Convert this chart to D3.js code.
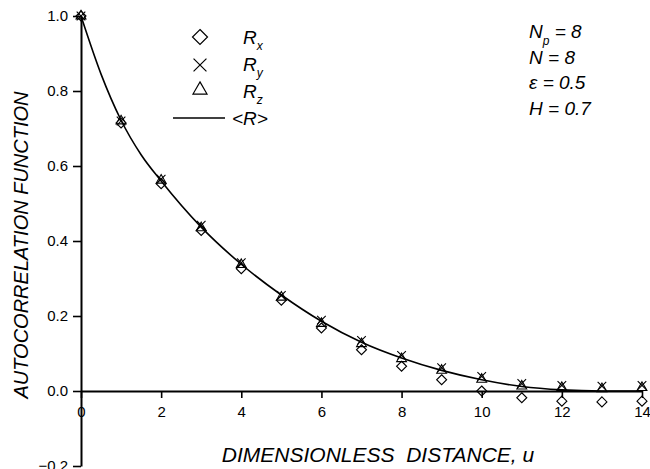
<!DOCTYPE html>
<html>
<head>
<meta charset="utf-8">
<script src="https://cdn.jsdelivr.net/npm/d3@7"></script>
<style>
body { margin: 0; background: #fff; }
text { font-family: "Liberation Sans", Arial, sans-serif; fill: #000; }
</style>
</head>
<body>
<script>
// data
var uPoints = [0, 1, 2, 3, 4, 5, 6, 7, 8, 9, 10, 11, 12, 13, 14];
var rx = [1.0, 0.715, 0.553, 0.428, 0.326, 0.242, 0.168, 0.110, 0.066, 0.030, 0.000, -0.018, -0.027, -0.029, -0.027];
var ry = [1.0, 0.720, 0.565, 0.442, 0.342, 0.255, 0.189, 0.135, 0.095, 0.062, 0.039, 0.020, 0.015, 0.013, 0.015];
var rz = [1.0, 0.720, 0.562, 0.435, 0.337, 0.250, 0.180, 0.126, 0.086, 0.055, 0.031, 0.013, 0.009, 0.006, 0.009];
var uCurve = [0, 0.5, 1, 1.5, 2, 3, 4, 5, 6, 7, 8, 9, 10, 11, 12, 13, 14];
var rMean = [1.0, 0.845, 0.722, 0.63, 0.56, 0.437, 0.338, 0.256, 0.186, 0.130, 0.088, 0.055, 0.030, 0.012, 0.003, 0.0, 0.0];
var xMajor = [0, 2, 4, 6, 8, 10, 12, 14];
var xMinor = [1, 3, 5, 7, 9, 11, 13];
var yMajor = [-0.2, 0.0, 0.2, 0.4, 0.6, 0.8, 1.0];
var yMinor = [-0.1, 0.1, 0.3, 0.5, 0.7, 0.9];
var params = [
    {main: 'N', sub: 'p', rest: ' = 8'},
    {main: 'N', sub: '', rest: ' = 8'},
    {main: '\u03b5', sub: '', rest: ' = 0.5'},
    {main: 'H', sub: '', rest: ' = 0.7'}
];

var _width = 650, _height = 469;

var svg = d3.select('body').append('svg')
    .attr('width', _width)
    .attr('height', _height);

var x = d3.scaleLinear().domain([0, 14]).range([81, 642]);
var y = d3.scaleLinear().domain([-0.2, 1.0]).range([466, 16]);

// y axis
var gy = svg.append('g').attr('transform', 'translate(' + x(0) + ',0)');
gy.call(d3.axisLeft(y).tickValues(yMinor).tickSize(4).tickSizeOuter(0).tickFormat(''));
gy.call(d3.axisLeft(y).tickValues(yMajor).tickSize(8).tickPadding(5).tickSizeOuter(0)
    .tickFormat(d3.format('.1f')));

// x axis sitting on y = 0
var gx = svg.append('g').attr('transform', 'translate(0,' + y(0) + ')');
gx.call(d3.axisBottom(x).tickValues(xMinor).tickSize(4).tickSizeOuter(0).tickFormat(''));
gx.call(d3.axisBottom(x).tickValues(xMajor).tickSize(7).tickPadding(8).tickSizeOuter(0)
    .tickFormat(d3.format('d')));

svg.selectAll('.domain').attr('stroke', '#000').attr('stroke-width', 2);
svg.selectAll('.tick line').attr('stroke', '#000').attr('stroke-width', 1.6);
svg.selectAll('.tick text').attr('font-size', 15).attr('font-family', '"Liberation Sans", Arial, sans-serif').attr('fill', '#000');

// mean curve
var line = d3.line()
    .x(function(d, i){ return x(uCurve[i]); })
    .y(function(d){ return y(d); })
    .curve(d3.curveMonotoneX);

svg.append('path')
    .datum(rMean)
    .attr('d', line)
    .attr('fill', 'none')
    .attr('stroke', '#000')
    .attr('stroke-width', 1.6);

var diamond = function(s){
    var h = s / 2;
    return 'M0,' + (-h) + 'L' + h + ',0L0,' + h + 'L' + (-h) + ',0Z';
};
var cross = d3.symbol().type(d3.symbolX).size(50);
var tri = d3.symbol().type(d3.symbolTriangle).size(42);

svg.append('g').selectAll('path').data(rx).enter().append('path')
    .attr('transform', function(d, i){ return 'translate(' + x(uPoints[i]) + ',' + y(d) + ')'; })
    .attr('d', diamond(10))
    .attr('fill', 'none').attr('stroke', '#000').attr('stroke-width', 1.1);

svg.append('g').selectAll('path').data(ry).enter().append('path')
    .attr('transform', function(d, i){ return 'translate(' + x(uPoints[i]) + ',' + y(d) + ')'; })
    .attr('d', cross())
    .attr('fill', 'none').attr('stroke', '#000').attr('stroke-width', 1.1);

svg.append('g').selectAll('path').data(rz).enter().append('path')
    .attr('transform', function(d, i){ return 'translate(' + x(uPoints[i]) + ',' + y(d) + ')'; })
    .attr('d', tri())
    .attr('fill', 'none').attr('stroke', '#000').attr('stroke-width', 1.1);

// legend
var leg = svg.append('g');
leg.append('path').attr('transform', 'translate(200,37)').attr('d', diamond(15))
    .attr('fill', 'none').attr('stroke', '#000').attr('stroke-width', 1.2);
leg.append('path').attr('transform', 'translate(200,65)')
    .attr('d', d3.symbol().type(d3.symbolX).size(110)())
    .attr('fill', 'none').attr('stroke', '#000').attr('stroke-width', 1.2);
leg.append('path').attr('transform', 'translate(200,90)')
    .attr('d', d3.symbol().type(d3.symbolTriangle).size(85)())
    .attr('fill', 'none').attr('stroke', '#000').attr('stroke-width', 1.2);
leg.append('line').attr('x1', 173).attr('x2', 225).attr('y1', 118).attr('y2', 118)
    .attr('stroke', '#000').attr('stroke-width', 1.6);

var legLabels = [{sub: 'x', base: 44}, {sub: 'y', base: 71}, {sub: 'z', base: 98}];
legLabels.forEach(function(l){
    var t = leg.append('text').attr('x', 243).attr('y', l.base)
        .attr('font-size', 19).attr('font-style', 'italic');
    t.append('tspan').text('R');
    t.append('tspan').attr('font-size', 12).attr('dy', 6).text(l.sub);
});
leg.append('text').attr('x', 232).attr('y', 125)
    .attr('font-size', 19).attr('font-style', 'italic').text('<R>');

// parameters, top right
params.forEach(function(p, i){
    var t = svg.append('text').attr('x', 529).attr('y', 38 + i * 25.7)
        .attr('font-size', 19).attr('font-style', 'italic');
    t.append('tspan').text(p.main);
    if (p.sub) {
        t.append('tspan').attr('font-size', 12).attr('dy', 7).text(p.sub);
        t.append('tspan').attr('dy', -7).text(p.rest);
    } else {
        t.append('tspan').text(p.rest);
    }
});

// axis titles
svg.append('text')
    .attr('transform', 'translate(28,245) rotate(-90)')
    .attr('text-anchor', 'middle')
    .attr('font-size', 20).attr('font-style', 'italic')
    .text('AUTOCORRELATION FUNCTION');

svg.append('text')
    .attr('x', 378).attr('y', 462)
    .attr('text-anchor', 'middle')
    .attr('font-size', 21).attr('font-style', 'italic')
    .attr('xml:space', 'preserve')
    .text('DIMENSIONLESS  DISTANCE, u');
</script>
</body>
</html>
